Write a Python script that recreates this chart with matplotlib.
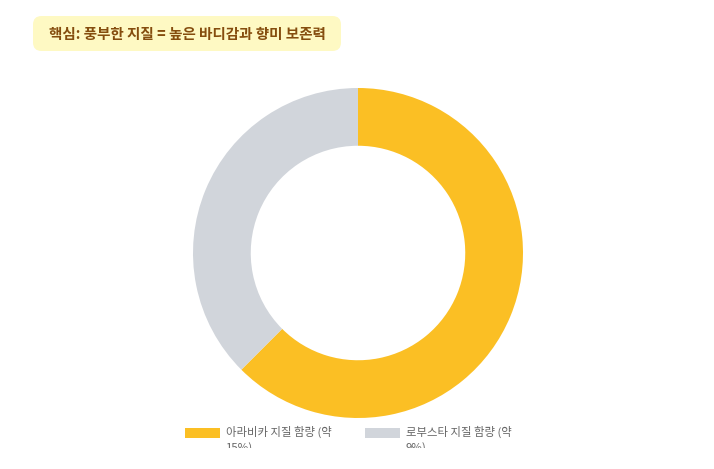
import matplotlib
matplotlib.use("Agg")
import matplotlib.pyplot as plt
from matplotlib.patches import FancyBboxPatch, Rectangle

plt.rcParams['font.family'] = ['Noto Sans CJK KR', 'DejaVu Sans']

title = "핵심: 풍부한 지질 = 높은 바디감과 향미 보존력"
labels = ["아라비카 지질 함량 (약\n15%)", "로부스타 지질 함량 (약\n9%)"]
values = [15, 9]
colors = ["#FBBF24", "#D1D5DB"]

W, H = 714, 469
fig = plt.figure(figsize=(W / 100, H / 100), dpi=100)
fig.patch.set_facecolor("white")

cx, cy, r = 358, 253, 165
ax = fig.add_axes([(cx - r) / W, (H - cy - r) / H, 2 * r / W, 2 * r / H])
ax.pie(values, colors=colors, startangle=90, counterclock=False,
       radius=1.0, wedgeprops=dict(width=0.35, linewidth=0))
ax.set_xlim(-1, 1)
ax.set_ylim(-1, 1)
ax.set_aspect("equal")
ax.axis("off")

# Title box
bx0, by0, bx1, by1 = 33, 16, 341, 51
box = FancyBboxPatch((bx0 / W, 1 - by1 / H), (bx1 - bx0) / W, (by1 - by0) / H,
                     boxstyle="round,pad=0,rounding_size=0.012",
                     transform=fig.transFigure, facecolor="#FEF9C3",
                     edgecolor="none", mutation_aspect=W / H)
fig.add_artist(box)
fig.text((bx0 + bx1) / 2 / W, 1 - 34 / H, title, ha="center", va="center",
         fontsize=10.5, fontweight="bold", color="#854D0E")

# Legend
legend_x = [185, 365]
for x, lab, c in zip(legend_x, labels, colors):
    fig.add_artist(Rectangle((x / W, 1 - 438 / H), 35 / W, 10 / H,
                             transform=fig.transFigure, facecolor=c, edgecolor="none"))
    fig.text((x + 41) / W, 1 - 426 / H, lab, ha="left", va="top",
             fontsize=8.2, color="#666666", linespacing=1.45)

# clip region below legend container
fig.add_artist(Rectangle((0, 0), 1, 1 - 448 / H, transform=fig.transFigure,
                         facecolor="white", edgecolor="none", zorder=10))

fig.savefig("out.png", dpi=100)
